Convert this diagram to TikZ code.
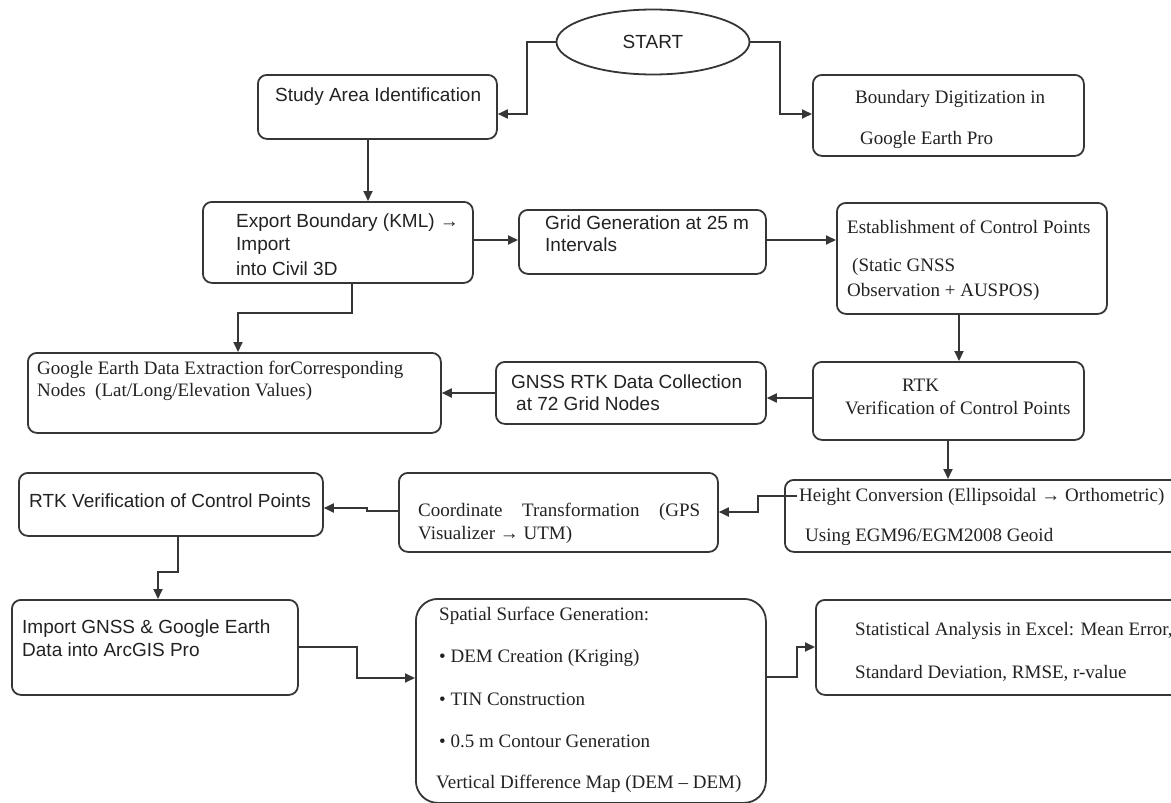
\documentclass[tikz,border=0pt]{standalone}
\usepackage{fontspec}
\setmainfont{Liberation Serif}
\newfontfamily\arialf{Liberation Sans}
\usetikzlibrary{arrows.meta,shapes.geometric}
\definecolor{linec}{HTML}{363636}
\definecolor{textc}{HTML}{222222}
\newcommand\mybox[6]{\node[#1, anchor=north west, minimum width={#5-#3}, minimum height={#6-#4}] (#2) at (#3,#4) {};}
\newcommand\tx[5]{\node[#1, anchor=west] (#2) at (#3,#4) {#5};}
\begin{document}
\begin{tikzpicture}[x=1pt,y=-1pt,
  box/.style={draw=linec, line width=1.8pt, rounded corners=9pt, inner sep=0pt},
  bigbox/.style={box, rounded corners=22pt},
  sans/.style={inner sep=0pt, text=textc, font=\arialf\fontsize{19}{22}\selectfont},
  serif/.style={inner sep=0pt, text=textc, font=\rmfamily\fontsize{19}{22}\selectfont},
  conn/.style={draw=linec, line width=1.8pt, -{Triangle[length=10pt,width=9pt]}}]
\useasboundingbox (0,0) rectangle (1171,803);

% nodes (boxes)
\node[draw=linec, line width=1.8pt, ellipse, minimum width=193pt, minimum height=65pt, inner sep=0pt,
      text=textc, font=\arialf\fontsize{19}{22}\selectfont] (start) at (653,42) {START};
\mybox{box}{study}{257}{74}{496}{138}
\mybox{box}{boundary}{812}{74}{1083}{155}
\mybox{box}{export}{202}{201}{472}{282}
\mybox{box}{grid}{518}{209}{765}{273}
\mybox{box}{estab}{836}{202}{1106}{313}
\mybox{box}{google}{27}{352}{440}{432}
\mybox{box}{gnss}{495}{361}{765}{423}
\mybox{box}{rtkR}{812}{361}{1083}{439}
\mybox{box}{rtkL}{18}{472}{322}{535}
\mybox{box}{coord}{398}{472}{717}{551}
\mybox{box}{height}{784}{479}{1185}{551}
\mybox{box}{import}{11}{599}{297}{694}
\mybox{bigbox}{spatial}{415}{598}{765}{802}
\mybox{box}{stats}{815}{599}{1185}{694}

% texts
\tx{sans}{tStudy}{275}{97}{Study Area Identification}
\tx{serif}{tBound1}{855}{99}{Boundary Digitization in}
\tx{serif}{tBound2}{860}{140}{Google Earth Pro}
\tx{sans}{tExp1}{236}{223}{Export Boundary (KML) →}
\tx{sans}{tExp2}{236}{246}{Import}
\tx{sans}{tExp3}{236}{269}{into Civil 3D}
\tx{sans}{tGrid1}{545}{223}{Grid Generation at 25 m}
\tx{sans}{tGrid2}{545}{245}{Intervals}
\tx{serif}{tEst1}{847}{227}{Establishment of Control Points}
\tx{serif}{tEst2}{852}{267}{(Static GNSS}
\tx{serif}{tEst3}{847}{292}{Observation + AUSPOS)}
\tx{serif}{tGoo1}{37}{370}{Google Earth Data Extraction forCorresponding}
\tx{serif}{tGoo2}{37}{392}{Nodes\ \ (Lat/Long/Elevation Values)}
\tx{sans}{tGnss1}{511}{382}{GNSS RTK Data Collection}
\tx{sans}{tGnss2}{516}{404}{at 72 Grid Nodes}
\tx{serif}{tRtk1}{902}{385}{RTK}
\tx{serif}{tRtk2}{845}{408}{Verification of Control Points}
\tx{sans}{tRtkL}{29}{501}{RTK Verification of Control Points}
\tx{serif}{tCo1}{418}{512}{\makebox[282pt][s]{Coordinate\hfill Transformation\hfill (GPS}}
\tx{serif}{tCo2}{418}{535}{Visualizer → UTM)}
\tx{serif}{tHe1}{799}{497}{Height Conversion (Ellipsoidal → Orthometric)}
\tx{serif}{tHe2}{805}{537}{Using EGM96/EGM2008 Geoid}
\tx{sans}{tImp1}{22}{629}{Import GNSS \& Google Earth}
\tx{sans}{tImp2}{22}{650}{Data into ArcGIS Pro}
\tx{serif}{tSp1}{439}{616}{Spatial Surface Generation:}
\tx{serif}{tSp2}{439}{658}{• DEM Creation (Kriging)}
\tx{serif}{tSp3}{439}{699}{• TIN Construction}
\tx{serif}{tSp4}{439}{741}{• 0.5 m Contour Generation}
\tx{serif}{tSp5}{436}{784}{Vertical Difference Map (DEM – DEM)}
\tx{serif}{tSt1}{855}{631}{Statistical Analysis in Excel: Mean Error,}
\tx{serif}{tSt2}{855}{673}{Standard Deviation, RMSE, r-value}

% connectors
\coordinate (hs) at (797,496);
\draw[conn] (start.west) -- (527,42) |- (study.east |- 0,114);
\draw[conn] (start.east) -- (780,42) |- (boundary.west |- 0,114);
\draw[conn] (study.south -| 368,0) -- (export.north -| 368,0);
\draw[conn] (export.east |- 0,240) -- (grid.west |- 0,240);
\draw[conn] (grid.east |- 0,240) -- (estab.west |- 0,240);
\draw[conn] (export.south -| 352,0) |- (238,313) -- (google.north -| 238,0);
\draw[conn] (estab.south -| 959,0) -- (rtkR.north -| 959,0);
\draw[conn] (rtkR.west |- 0,398) -- (gnss.east |- 0,398);
\draw[conn] (gnss.west |- 0,393) -- (google.east |- 0,393);
\draw[conn] (rtkR.south -| 948,0) -- (height.north -| 948,0);
\draw[conn] (hs) -- (758,496) |- (coord.east |- 0,512);
\draw[conn] (coord.west |- 0,511) -- (367,511) -- (367,508) -- (rtkL.east |- 0,508);
\draw[conn] (rtkL.south -| 178,0) -- (178,572) -- (158,572) -- (import.north -| 158,0);
\draw[conn] (import.east |- 0,647) -- (357,647) |- (spatial.west |- 0,678);
\draw[conn] (spatial.east |- 0,677) -- (797,677) |- (stats.west |- 0,647);
\end{tikzpicture}
\end{document}
